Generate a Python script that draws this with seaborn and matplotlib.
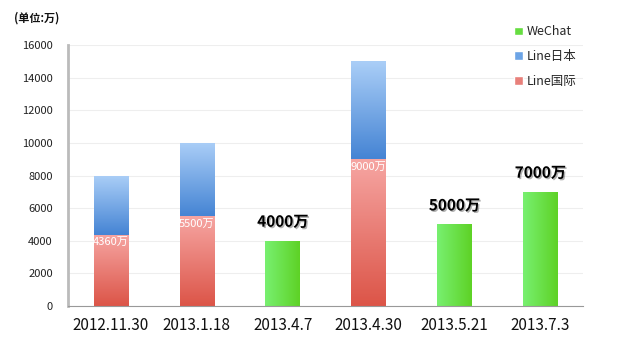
import numpy as np
import pandas as pd
import matplotlib
matplotlib.use("Agg")
import matplotlib.pyplot as plt
import seaborn as sns
from matplotlib.colors import LinearSegmentedColormap
from matplotlib.patches import Patch
import matplotlib.patheffects as pe

dates = ["2012.11.30", "2013.1.18", "2013.4.7", "2013.4.30", "2013.5.21", "2013.7.3"]
line_intl = [4360, 5500, np.nan, 9000, np.nan, np.nan]
line_japan = [3640, 4500, np.nan, 6000, np.nan, np.nan]
wechat = [np.nan, np.nan, 4000, np.nan, 5000, 7000]
intl_labels = ["4360万", "5500万", None, "9000万", None, None]
wechat_labels = [None, None, "4000万", None, "5000万", "7000万"]

sns.set_style("white")
plt.rcParams["font.family"] = ["Noto Sans CJK SC", "DejaVu Sans"]

df = pd.DataFrame({
    "date": dates,
    "intl": line_intl,
    "total": np.array(line_intl) + np.array(line_japan),
    "wechat": wechat,
})

fig = plt.figure(figsize=(6.21, 3.53), dpi=100)
ax = fig.add_axes([0.1095, 0.133, 0.8295, 0.7395])

w = 0.4
sns.barplot(data=df, x="date", y="total", color="#4a8ad8", width=w, ax=ax, order=dates)
blue_bars = list(ax.patches)
sns.barplot(data=df, x="date", y="intl", color="#e05a50", width=w, ax=ax, order=dates)
red_bars = [p for p in ax.patches if p not in blue_bars]
sns.barplot(data=df, x="date", y="wechat", color="#66dd40", width=w, ax=ax, order=dates)

cm_blue = LinearSegmentedColormap.from_list("b", ["#4584d4", "#aacef7"])
cm_red = LinearSegmentedColormap.from_list("r", ["#dc5548", "#f6a5a2"])
cm_green = LinearSegmentedColormap.from_list("g", ["#78f070", "#5ed226"])

# gradient fills clipped to the bar shapes
for p in list(ax.patches):
    h = p.get_height()
    if not np.isfinite(h) or h == 0:
        continue
    x0, y0 = p.get_x(), p.get_y()
    y1 = y0 + h
    pw = p.get_width()
    k = int(round(x0 + pw / 2))
    if p in blue_bars:
        y0 = line_intl[k]
        cmap, grad = cm_blue, np.linspace(0, 1, 100).reshape(-1, 1)
    elif p in red_bars:
        cmap, grad = cm_red, np.linspace(0, 1, 100).reshape(-1, 1)
    else:
        cmap, grad = cm_green, np.linspace(0, 1, 100).reshape(1, -1)
    im = ax.imshow(grad, cmap=cmap, aspect="auto", origin="lower",
                   extent=[x0, x0 + pw, y0, y1], zorder=p.get_zorder())
    im.set_clip_path(p)
    p.set_facecolor("none")
    p.set_edgecolor("none")

ax.set_xlim(-0.5, len(dates) - 0.5)
ax.set_ylim(0, 16000)
ax.set_aspect("auto")

for i, lab in enumerate(intl_labels):
    if lab:
        ax.text(i, line_intl[i] - 150, lab, ha="center", va="top", color="white",
                fontsize=8, style="italic", zorder=5)
for i, lab in enumerate(wechat_labels):
    if lab:
        ax.annotate(lab, (i, wechat[i]), xytext=(0, 8), textcoords="offset points",
                    ha="center", va="bottom", fontsize=11, fontweight="bold", color="black",
                    path_effects=[pe.withSimplePatchShadow(offset=(1, -1), alpha=0.3)])

ax.set_yticks(np.arange(0, 16001, 2000))
ax.yaxis.grid(True, color="#eeeeee", linewidth=0.8)
ax.set_axisbelow(True)
ax.tick_params(axis="y", labelsize=8, length=0, pad=11, colors="#222222")
ax.tick_params(axis="x", labelsize=11, length=0, pad=8, colors="#111111")
ax.set_xticks(np.arange(-0.5, len(dates), 1.0), minor=True)
ax.tick_params(axis="x", which="minor", length=5, color="#999999", width=0.8)
ax.set_xlabel("")
ax.set_ylabel("")

for s in ["top", "right"]:
    ax.spines[s].set_visible(False)
ax.spines["left"].set_color("#bbbbbb")
ax.spines["left"].set_linewidth(2)
ax.spines["bottom"].set_color("#999999")
ax.spines["bottom"].set_linewidth(0.8)

fig.text(0.022, 0.948, "(单位:万)", fontsize=8, ha="left", va="center", color="#111111",
         fontweight="bold")

handles = [Patch(facecolor="#66dd40", label="WeChat"),
           Patch(facecolor="#6ca4e6", label="Line日本"),
           Patch(facecolor="#e8807a", label="Line国际")]
fig.legend(handles=handles, loc="upper left", bbox_to_anchor=(0.81, 0.96), frameon=False,
           fontsize=9, handlelength=0.7, handleheight=0.7, handletextpad=0.3, labelspacing=0.95)

fig.savefig("out.png", dpi=100)
